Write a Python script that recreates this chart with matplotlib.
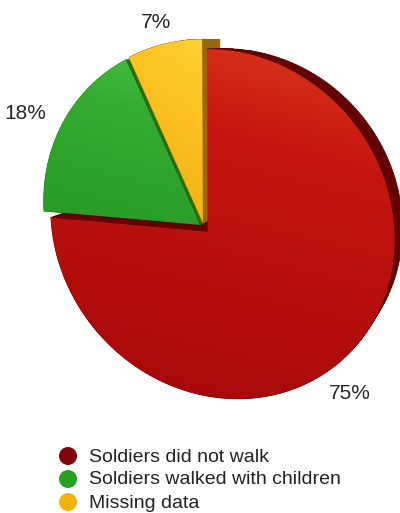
import numpy as np
import matplotlib.pyplot as plt
from matplotlib.patches import Polygon, Circle
from matplotlib.colors import to_rgb

labels = ['Soldiers did not walk', 'Soldiers walked with children', 'Missing data']
shares = [75, 18, 7]
# front-face shading: top, middle, bottom
face_stops = [
    ['#dd3a1c', '#c5140f', '#a4080a'],
    ['#46c141', '#35ad31', '#289925'],
    ['#ffd132', '#fcc322', '#f1ae10'],
]
side_colors = ['#640000', '#1b7313', '#9a6905']
legend_colors = ['#7d0507', '#23a11f', '#f4b30a']

W, H = 400, 513
fig = plt.figure(figsize=(W / 100, H / 100), dpi=100)
ax = fig.add_axes([0, 0, 1, 1])
ax.set_xlim(0, W)
ax.set_ylim(H, 0)
ax.axis('off')

# thick disk seen slightly from the upper right, in perspective
yaw, pitch, roll = np.radians(22), np.radians(14.5), np.radians(5.3)
dist = 4.3
depth = 0.25
scale_x, scale_y = 184, 178
cx, cy = 204, 228
explode = 0.03


def project(x, y, z):
    y1 = y * np.cos(pitch) - z * np.sin(pitch)
    z1 = y * np.sin(pitch) + z * np.cos(pitch)
    x2 = x * np.cos(yaw) - z1 * np.sin(yaw)
    z2 = x * np.sin(yaw) + z1 * np.cos(yaw)
    s = dist / (dist - z2)
    px, py = x2 * s, y1 * s
    rx = px * np.cos(roll) + py * np.sin(roll)
    ry = -px * np.sin(roll) + py * np.cos(roll)
    return cx + scale_x * rx, cy - scale_y * ry, z2


fracs = np.array(shares) / sum(shares)
edges = np.concatenate([[0], np.cumsum(fracs)])

sides = []
fronts = []
mids = []
for i in range(len(shares)):
    t0 = np.radians(90 - 360 * edges[i])
    t1 = np.radians(90 - 360 * edges[i + 1])
    mid = (t0 + t1) / 2
    mids.append(mid)
    ox, oy = explode * np.cos(mid), explode * np.sin(mid)
    n = max(int(abs(t1 - t0) / np.radians(1.5)), 8)
    th = np.linspace(t0, t1, n)
    ux = np.concatenate([[ox], ox + np.cos(th)])
    uy = np.concatenate([[oy], oy + np.sin(th)])
    fx, fy, fz = project(ux, uy, np.zeros_like(ux))
    bx, by, bz = project(ux, uy, -depth * np.ones_like(ux))
    m = len(ux)
    for k in range(m):
        j = (k + 1) % m
        quad = [(fx[k], fy[k]), (fx[j], fy[j]), (bx[j], by[j]), (bx[k], by[k])]
        sides.append(((fz[k] + fz[j] + bz[k] + bz[j]) / 4, quad, side_colors[i]))
    fronts.append((np.column_stack([fx, fy]), i))

# sides from far to near, then the flat front faces on top
for _, quad, col in sorted(sides, key=lambda s: s[0]):
    ax.add_patch(Polygon(quad, closed=True, facecolor=col, edgecolor=col, lw=0.6, zorder=1))

gx, gy = np.meshgrid(np.arange(W) + 0.5, np.arange(H) + 0.5)
for pts, i in fronts:
    y0, y1 = pts[:, 1].min(), pts[:, 1].max()
    x0, x1 = pts[:, 0].min(), pts[:, 0].max()
    t = 0.8 * (gy - y0) / (y1 - y0) + 0.2 * (x1 - gx) / (x1 - x0)
    t = np.clip(t, 0, 1)
    stops = np.array([to_rgb(c) for c in face_stops[i]])
    img = np.stack([np.interp(t, [0, 0.3, 1], stops[:, c]) for c in range(3)], axis=-1)
    poly = Polygon(pts, closed=True, facecolor='none', edgecolor='none')
    ax.add_patch(poly)
    im = ax.imshow(img, extent=(0, W, H, 0), origin='upper', zorder=2, interpolation='bilinear')
    im.set_clip_path(poly)

ax.set_xlim(0, W)
ax.set_ylim(H, 0)

# percentage labels on an ellipse around the pie, along each slice's bisector,
# kept clear of the top edge
for i, mid in enumerate(mids):
    lx = 202 + 209 * np.cos(mid)
    ly = max(234 - 225 * np.sin(mid), 22)
    ax.text(lx, ly, f'{shares[i]}%', ha='center', va='center', fontsize=15,
            family='Liberation Sans', color='#262626', zorder=3)

# legend
for i, lab in enumerate(labels):
    y = 456 + 23 * i
    ax.add_patch(Circle((68, y), 9, facecolor=legend_colors[i], edgecolor='none', zorder=3))
    ax.text(89, y + 1, lab, ha='left', va='center', fontsize=14,
            family='Liberation Sans', color='#222222', zorder=3)

fig.savefig('out.png', dpi=100)
